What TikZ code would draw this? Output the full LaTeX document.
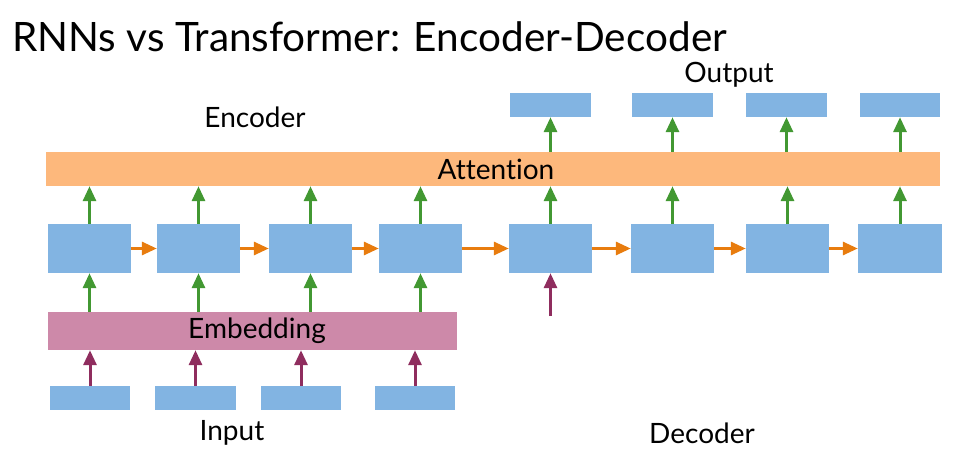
\documentclass[tikz,border=0pt]{standalone}
\usepackage{fontspec}
\setmainfont{Lato}[Ligatures=NoCommon]
\usetikzlibrary{arrows.meta}
\definecolor{boxblue}{RGB}{130,180,226}
\definecolor{attorange}{RGB}{253,184,124}
\definecolor{embpink}{RGB}{205,137,169}
\definecolor{agreen}{RGB}{66,152,50}
\definecolor{aorange}{RGB}{232,124,14}
\definecolor{apurple}{RGB}{143,45,94}
\tikzset{
  box/.style={fill=boxblue, draw=none, inner sep=0pt, minimum width=83pt, minimum height=49pt},
  iobox/.style={fill=boxblue, draw=none, inner sep=0pt, minimum width=81pt, minimum height=24pt},
  bar/.style={draw=none, inner sep=0pt},
  lbl/.style={inner sep=0pt, font=\fontsize{28}{32}\selectfont},
  arr/.style={line width=3pt, -{Triangle[length=15pt,width=13pt]}},
  garrow/.style={arr, draw=agreen},
  oarrow/.style={arr, draw=aorange},
  parrow/.style={arr, draw=apurple}
}
\begin{document}
\begin{tikzpicture}[x=1pt,y=-1pt]
\useasboundingbox (0,0) rectangle (954,476);
\fill[white] (0,0) rectangle (954,476);
% title
\node[inner sep=0pt, anchor=base west, font=\fontsize{40.5}{48}\selectfont] (title) at (12,52) {RNNs vs Transformer: Encoder-Decoder};
% labels
\node[lbl] (enclbl) at (255,117) {Encoder};
\node[lbl] (outlbl) at (729,75) {Output};
\node[lbl] (inlbl) at (232,433) {Input};
\node[lbl] (declbl) at (702,433) {Decoder};
% bars
\node[bar, fill=attorange, minimum width=894pt, minimum height=34pt] (att) at (493,169) {};
\node[lbl] (attlbl) at (496,169) {Attention};
\node[bar, fill=embpink, minimum width=409pt, minimum height=38pt] (emb) at (252.5,331) {};
\node[lbl] (emblbl) at (257,331) {Embedding};
% encoder hidden
\node[box] (e1) at (89.5,248.5) {};
\node[box] (e2) at (198.5,248.5) {};
\node[box] (e3) at (310.5,248.5) {};
\node[box] (e4) at (420.5,248.5) {};
% decoder hidden
\node[box] (d1) at (550.5,248.5) {};
\node[box] (d2) at (672.5,248.5) {};
\node[box] (d3) at (787.5,248.5) {};
\node[box, minimum width=84pt] (d4) at (900,248.5) {};
% outputs
\node[iobox] (o1) at (550.5,105) {};
\node[iobox] (o2) at (672.5,105) {};
\node[iobox] (o3) at (786.5,105) {};
\node[iobox, minimum width=80pt] (o4) at (900,105) {};
% inputs
\node[iobox, minimum width=80pt] (i1) at (90,398) {};
\node[iobox] (i2) at (195.5,398) {};
\node[iobox, minimum width=80pt] (i3) at (301,398) {};
\node[iobox, minimum width=80pt] (i4) at (415,398) {};
% encoder to attention, embedding to encoder
\foreach \n in {e1,e2,e3,e4} {
  \draw[garrow] (\n.north) -- (\n.north |- att.south);
  \draw[garrow] (\n.south |- emb.north) -- (\n.south);
}
% decoder to attention
\foreach \n in {d1,d2,d3,d4} {
  \draw[garrow] (\n.north) -- (\n.north |- att.south);
}
% attention to output
\foreach \n in {o1,o2,o3,o4} {
  \draw[garrow] (\n.south |- att.north) -- (\n.south);
}
% inputs to embedding
\foreach \n in {i1,i2,i3,i4} {
  \draw[parrow] (\n.north) -- (\n.north |- emb.south);
}
% recurrent arrows
\draw[oarrow] (e1.east) -- (e2.west);
\draw[oarrow] (e2.east) -- (e3.west);
\draw[oarrow] (e3.east) -- (e4.west);
\draw[oarrow] (e4.east) -- (d1.west);
\draw[oarrow] (d1.east) -- (d2.west);
\draw[oarrow] (d2.east) -- (d3.west);
\draw[oarrow] (d3.east) -- (d4.west);
% decoder start input
\coordinate (dstart) at (550.5,316);
\draw[parrow] (dstart) -- (d1.south);
\end{tikzpicture}
\end{document}
